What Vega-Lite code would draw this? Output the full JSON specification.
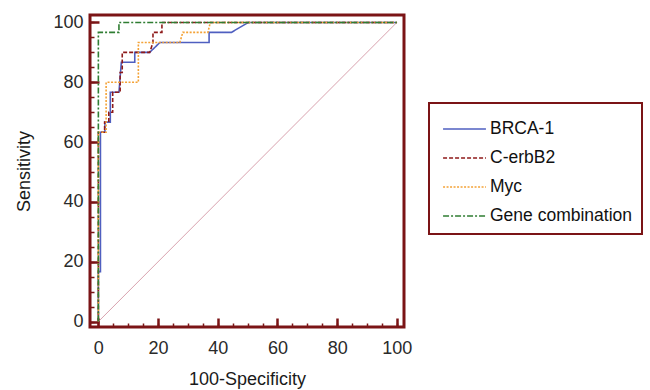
{
  "$schema": "https://vega.github.io/schema/vega-lite/v6.json",
  "width": 314,
  "height": 312,
  "autosize": {"type": "none"},
  "padding": {"left": 90, "top": 15, "right": 246, "bottom": 63},
  "background": "white",
  "view": {"stroke": "#7b1416", "strokeWidth": 3},
  "config": {
    "font": "Liberation Sans",
    "axis": {"labelFont": "Liberation Sans", "titleFont": "Liberation Sans"},
    "legend": {"labelFont": "Liberation Sans"}
  },
  "datasets": {
    "diag": [{"x": 0, "y": 0}, {"x": 100, "y": 100}],
    "roc": [
      {"series": "BRCA-1", "i": 0, "x": 0, "y": 0},
      {"series": "BRCA-1", "i": 1, "x": 0, "y": 16.7},
      {"series": "BRCA-1", "i": 2, "x": 0.7, "y": 16.7},
      {"series": "BRCA-1", "i": 3, "x": 0.7, "y": 63.3},
      {"series": "BRCA-1", "i": 4, "x": 2.2, "y": 63.3},
      {"series": "BRCA-1", "i": 5, "x": 2.2, "y": 66.7},
      {"series": "BRCA-1", "i": 6, "x": 4.0, "y": 66.7},
      {"series": "BRCA-1", "i": 7, "x": 4.0, "y": 76.7},
      {"series": "BRCA-1", "i": 8, "x": 6.9, "y": 76.7},
      {"series": "BRCA-1", "i": 9, "x": 7.7, "y": 86.7},
      {"series": "BRCA-1", "i": 10, "x": 12.2, "y": 86.7},
      {"series": "BRCA-1", "i": 11, "x": 12.2, "y": 90},
      {"series": "BRCA-1", "i": 12, "x": 17.2, "y": 90},
      {"series": "BRCA-1", "i": 13, "x": 20.6, "y": 93.3},
      {"series": "BRCA-1", "i": 14, "x": 37.1, "y": 93.3},
      {"series": "BRCA-1", "i": 15, "x": 37.1, "y": 96.7},
      {"series": "BRCA-1", "i": 16, "x": 44.6, "y": 96.7},
      {"series": "BRCA-1", "i": 17, "x": 50.2, "y": 100},
      {"series": "BRCA-1", "i": 18, "x": 100, "y": 100},
      {"series": "C-erbB2", "i": 0, "x": 0, "y": 0},
      {"series": "C-erbB2", "i": 1, "x": 0, "y": 63.3},
      {"series": "C-erbB2", "i": 2, "x": 2.1, "y": 63.3},
      {"series": "C-erbB2", "i": 3, "x": 2.1, "y": 66.7},
      {"series": "C-erbB2", "i": 4, "x": 3.5, "y": 66.7},
      {"series": "C-erbB2", "i": 5, "x": 3.5, "y": 70},
      {"series": "C-erbB2", "i": 6, "x": 4.8, "y": 70},
      {"series": "C-erbB2", "i": 7, "x": 4.8, "y": 76.7},
      {"series": "C-erbB2", "i": 8, "x": 7.3, "y": 76.7},
      {"series": "C-erbB2", "i": 9, "x": 7.3, "y": 83.3},
      {"series": "C-erbB2", "i": 10, "x": 8.0, "y": 83.3},
      {"series": "C-erbB2", "i": 11, "x": 8.0, "y": 90},
      {"series": "C-erbB2", "i": 12, "x": 17.2, "y": 90},
      {"series": "C-erbB2", "i": 13, "x": 18.3, "y": 93.3},
      {"series": "C-erbB2", "i": 14, "x": 18.3, "y": 96.7},
      {"series": "C-erbB2", "i": 15, "x": 21.3, "y": 96.7},
      {"series": "C-erbB2", "i": 16, "x": 21.3, "y": 100},
      {"series": "C-erbB2", "i": 17, "x": 100, "y": 100},
      {"series": "Myc", "i": 0, "x": 0, "y": 0},
      {"series": "Myc", "i": 1, "x": 0, "y": 63.3},
      {"series": "Myc", "i": 2, "x": 2.6, "y": 63.3},
      {"series": "Myc", "i": 3, "x": 2.6, "y": 80},
      {"series": "Myc", "i": 4, "x": 13.4, "y": 80},
      {"series": "Myc", "i": 5, "x": 13.4, "y": 93.3},
      {"series": "Myc", "i": 6, "x": 27.3, "y": 93.3},
      {"series": "Myc", "i": 7, "x": 28.3, "y": 96.7},
      {"series": "Myc", "i": 8, "x": 36.7, "y": 96.7},
      {"series": "Myc", "i": 9, "x": 37.5, "y": 100},
      {"series": "Myc", "i": 10, "x": 100, "y": 100},
      {"series": "Gene combination", "i": 0, "x": 0, "y": 0},
      {"series": "Gene combination", "i": 1, "x": 0, "y": 96.7},
      {"series": "Gene combination", "i": 2, "x": 6.9, "y": 96.7},
      {"series": "Gene combination", "i": 3, "x": 6.9, "y": 100},
      {"series": "Gene combination", "i": 4, "x": 100, "y": 100}
    ]
  },
  "layer": [
    {
      "data": {"name": "diag"},
      "mark": {"type": "line", "color": "#d8a2ae", "strokeWidth": 1},
      "encoding": {
        "x": {
          "field": "x", "type": "quantitative",
          "scale": {"domain": [-2.8, 102.4], "nice": false, "zero": false},
          "axis": {
            "orient": "bottom", "values": [0, 20, 40, 60, 80, 100], "domain": false, "grid": false,
            "tickSize": -9, "tickWidth": 2.5, "tickColor": "#7b1416",
            "labelFontSize": 18, "labelColor": "#2a2a2a", "labelPadding": 21,
            "title": "100-Specificity", "titleFontSize": 18, "titleFontWeight": "normal", "titleColor": "#1a1a1a", "titlePadding": 13
          }
        },
        "y": {
          "field": "y", "type": "quantitative",
          "scale": {"domain": [-1.8, 102.5], "nice": false, "zero": false},
          "axis": {
            "orient": "left", "values": [0, 20, 40, 60, 80, 100], "domain": false, "grid": false,
            "tickSize": -9, "tickWidth": 2.5, "tickColor": "#7b1416",
            "labelFontSize": 18, "labelColor": "#2a2a2a", "labelPadding": 16,
            "title": "Sensitivity", "titleFontSize": 18, "titleFontWeight": "normal", "titleColor": "#1a1a1a", "titlePadding": 19
          }
        }
      }
    },
    {
      "data": {"name": "roc"},
      "mark": {"type": "line", "strokeWidth": 1.6, "interpolate": "linear"},
      "encoding": {
        "x": {
          "field": "x", "type": "quantitative",
          "axis": {
            "orient": "bottom", "values": [0, 5, 10, 15, 20, 25, 30, 35, 40, 45, 50, 55, 60, 65, 70, 75, 80, 85, 90, 95, 100],
            "domain": false, "grid": false, "labels": false, "title": null,
            "tickSize": -4, "tickWidth": 1.5, "tickColor": "#7b1416"
          }
        },
        "y": {
          "field": "y", "type": "quantitative",
          "axis": {
            "orient": "left", "values": [0, 5, 10, 15, 20, 25, 30, 35, 40, 45, 50, 55, 60, 65, 70, 75, 80, 85, 90, 95, 100],
            "domain": false, "grid": false, "labels": false, "title": null,
            "tickSize": -4, "tickWidth": 1.5, "tickColor": "#7b1416"
          }
        },
        "order": {"field": "i", "type": "quantitative"},
        "color": {
          "field": "series", "type": "nominal",
          "scale": {
            "domain": ["BRCA-1", "C-erbB2", "Myc", "Gene combination"],
            "range": ["#4f5fc0", "#8e1a1a", "#f4a236", "#2f7d32"]
          },
          "legend": {
            "orient": "none", "legendX": 339, "legendY": 88, "title": null,
            "symbolType": "M-1.34,0H1.34", "symbolSize": 1024, "symbolStrokeWidth": 1.5, "symbolOffset": 9.5,
            "labelFontSize": 17.5, "labelColor": "#111111", "labelOffset": 8.5,
            "rowPadding": 3, "padding": 9, "strokeColor": "#7b1416",
            "encode": {"legend": {"update": {"strokeWidth": {"value": 2}}}}
          }
        },
        "strokeDash": {
          "field": "series", "type": "nominal",
          "scale": {
            "domain": ["BRCA-1", "C-erbB2", "Myc", "Gene combination"],
            "range": [[1, 0], [4, 2], [2, 1.5], [6, 2, 2, 2]]
          },
          "legend": null
        }
      }
    }
  ],
  "resolve": {"axis": {"x": "independent", "y": "independent"}}
}
